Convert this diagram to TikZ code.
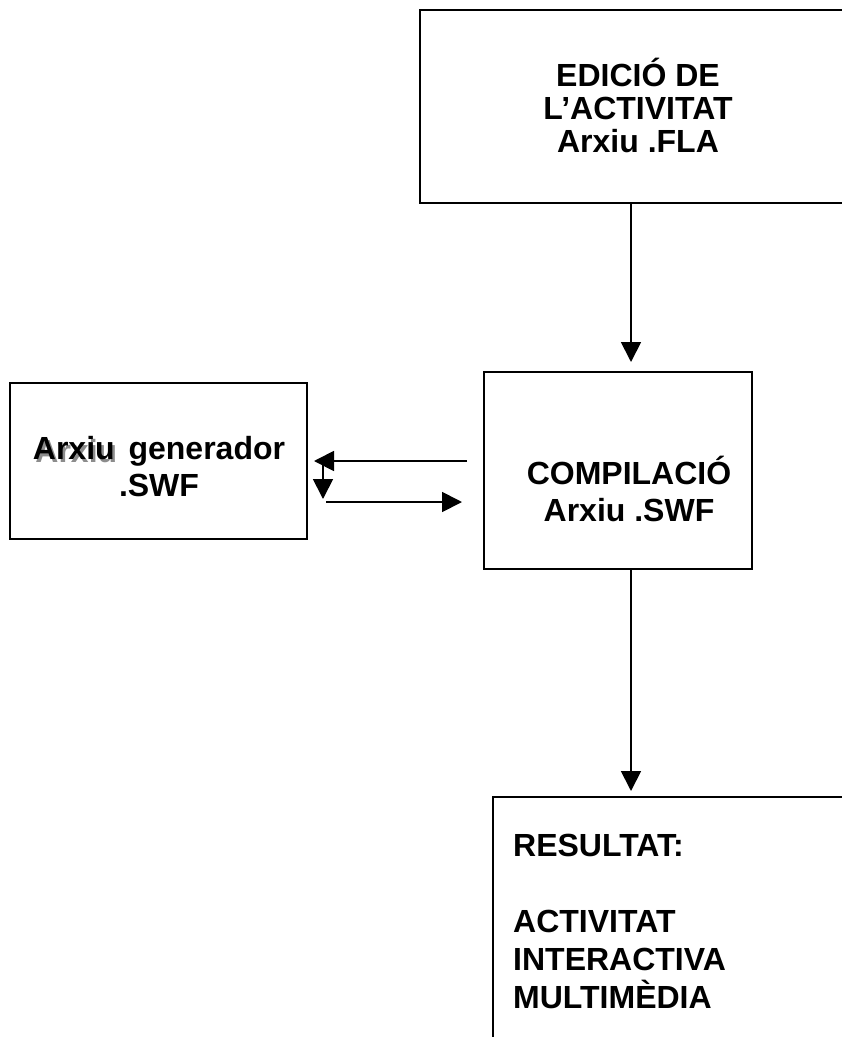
\documentclass[tikz,border=0pt]{standalone}
\usepackage{fontspec}
\setmainfont{Liberation Sans}
\usetikzlibrary{arrows.meta}
% word with a soft grey drop shadow
\newcommand\shadowword[1]{\makebox[0pt][l]{\hspace{2.5pt}\raisebox{-2.5pt}{\color{black!45}#1}}#1}
\begin{document}
\begin{tikzpicture}[x=1pt,y=-1pt,
  frame/.style={draw, line width=2pt, inner sep=0pt},
  lbl/.style={font=\fontsize{32}{37}\selectfont\bfseries, inner sep=0pt},
  arr/.style={line width=1.8pt, -{Triangle[length=20pt,width=20pt]}}]
\useasboundingbox (0,0) rectangle (842,1037);
\clip (0,0) rectangle (842,1037);

% boxes
\node[frame, minimum width=434pt, minimum height=193pt] (edit) at (637,106.5) {};
\node[frame, minimum width=268pt, minimum height=197pt] (comp) at (618,470.5) {};
\node[frame, minimum width=297pt, minimum height=156pt] (gen) at (158.5,461) {};
\node[frame, minimum width=407pt, minimum height=303pt] (res) at (696.5,948.5) {};

% texts
\node[lbl, align=center, font=\fontsize{32}{33}\selectfont\bfseries] (editlbl) at (638,105) {EDICIÓ DE\\L’ACTIVITAT\\Arxiu .FLA};
\node[lbl, align=center] (complbl) at (629,489) {COMPILACIÓ\\Arxiu .SWF};
\node[lbl, align=center] (genlbl) at (159,467) {\shadowword{Arxiu}\hspace{5pt} generador\\.SWF};
\node[lbl, align=left, anchor=north west, font=\fontsize{32}{38}\selectfont\bfseries] (reslbl) at (513,834) {RESULTAT:\\[38pt]ACTIVITAT\\INTERACTIVA\\MULTIMÈDIA};

% connectors
\coordinate (xa) at (631,0);
\coordinate (y1) at (0,461);
\coordinate (y2) at (0,502);
\coordinate (v1) at (323,461);
\coordinate (v2) at (323,499);
\draw[arr, shorten >=9pt] (edit.south -| xa) -- (comp.north -| xa);
\draw[arr, shorten >=5pt] (comp.south -| xa) -- (res.north -| xa);
\draw[arr, shorten <=16pt, shorten >=6pt] (comp.west |- y1) -- (gen.east |- y1);
\draw[arr] (v1) -- (v2);
\draw[arr, shorten <=18pt, shorten >=21pt] (gen.east |- y2) -- (comp.west |- y2);
\end{tikzpicture}
\end{document}
